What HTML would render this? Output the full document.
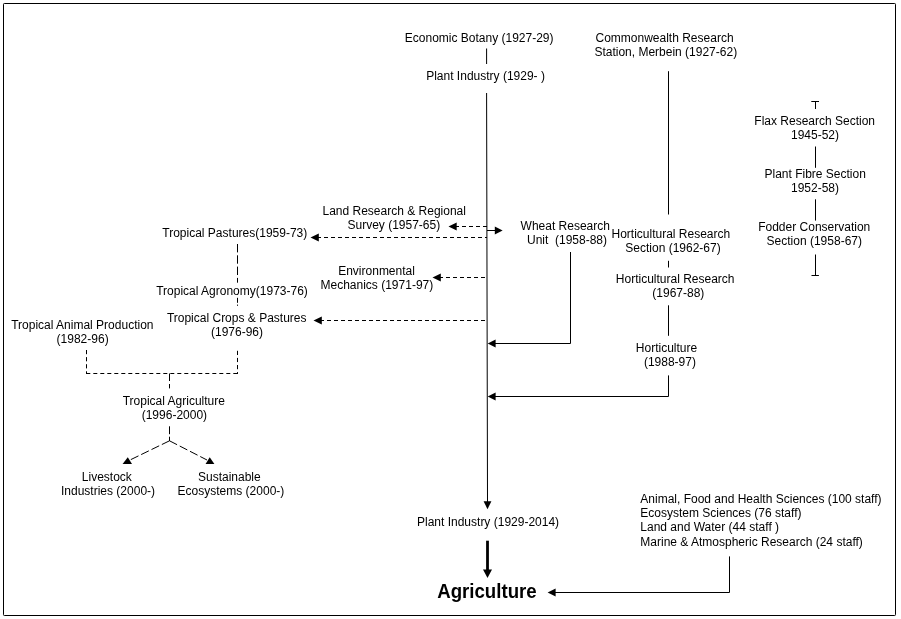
<!DOCTYPE html>
<html>
<head>
<meta charset="utf-8">
<title>Agriculture lineage</title>
<style>
html,body{margin:0;padding:0;background:#fff;}
body{width:901px;height:619px;overflow:hidden;}
svg{display:block;position:absolute;left:0;top:0;will-change:transform;}
text{font-family:"Liberation Sans",Arial,sans-serif;font-size:12px;fill:#000;white-space:pre;}
.b{font-weight:bold;font-size:18.67px;}
.l{stroke:#000;stroke-width:1;fill:none;}
.d{stroke:#000;stroke-width:1;fill:none;stroke-dasharray:4 3;}
.ld{stroke:#000;stroke-width:1;fill:none;stroke-dasharray:8.5 3;}
.a{fill:#000;stroke:none;}
</style>
</head>
<body>
<svg width="901" height="619" viewBox="0 0 901 619">
<rect x="0" y="0" width="901" height="619" fill="#fff"/>
<rect x="3.5" y="3.5" width="892" height="612" rx="0.8" class="l"/>

<!-- top centre -->
<text x="404.8" y="42">Economic Botany (1927-29)</text>
<line class="l" x1="486.6" y1="48.5" x2="486.6" y2="64"/>
<text x="426.2" y="80">Plant Industry (1929- )</text>
<line class="l" x1="486.6" y1="93" x2="487.5" y2="502"/>
<polygon class="a" points="483.6,501.2 491.4,501.2 487.5,509.2"/>

<!-- commonwealth -->
<text x="595.5" y="42">Commonwealth Research</text>
<text x="594.4" y="56">Station, Merbein (1927-62)</text>
<line class="l" x1="668.5" y1="71.2" x2="668.5" y2="214.5"/>

<!-- right column -->
<line class="l" x1="811.3" y1="101.5" x2="819" y2="101.5"/>
<line class="l" x1="815.5" y1="101.5" x2="815.5" y2="109"/>
<text x="754.3" y="125">Flax Research Section</text>
<text x="791" y="139">1945-52)</text>
<line class="l" x1="815.5" y1="146.5" x2="815.5" y2="167.8"/>
<text x="764.5" y="178">Plant Fibre Section</text>
<text x="791" y="192">1952-58)</text>
<line class="l" x1="815.5" y1="199.3" x2="815.5" y2="220.6"/>
<text x="758.2" y="231">Fodder Conservation</text>
<text x="766.6" y="245">Section (1958-67)</text>
<line class="l" x1="815.5" y1="254.5" x2="815.5" y2="275.5"/>
<line class="l" x1="811.5" y1="275.5" x2="818.9" y2="275.5"/>

<!-- land research -->
<text x="322.5" y="215">Land Research &amp; Regional</text>
<text x="347.5" y="229">Survey (1957-65)</text>
<line class="d" x1="455" y1="226.5" x2="487" y2="226.5"/>
<polygon class="a" points="448.5,226.5 456.7,222.6 456.7,230.4"/>
<line class="l" x1="487" y1="230.5" x2="496" y2="230.5"/>
<polygon class="a" points="502.6,230.5 494.8,226.6 494.8,234.4"/>

<!-- tropical pastures -->
<text x="162.3" y="237">Tropical Pastures(1959-73)</text>
<line class="d" x1="317" y1="237.5" x2="487" y2="237.5"/>
<polygon class="a" points="310.5,237.5 318.8,233.6 318.8,241.4"/>
<line class="ld" x1="237.5" y1="244" x2="237.5" y2="282.7" style="stroke-dasharray:8.4 2.9"/>
<line class="l" x1="237.5" y1="297.8" x2="237.5" y2="302.8"/>
<line class="l" x1="237.5" y1="304.6" x2="237.5" y2="305.8"/>
<text x="156.2" y="295">Tropical Agronomy(1973-76)</text>

<!-- wheat -->
<text x="520.6" y="230">Wheat Research</text>
<text x="527" y="244" xml:space="preserve">Unit  (1958-88)</text>
<polyline class="l" points="570.5,252 570.5,343.5 495,343.5"/>
<polygon class="a" points="487.7,343.5 495.6,339.6 495.6,347.4"/>

<!-- horticultural -->
<text x="611.5" y="238">Horticultural Research</text>
<text x="625.3" y="252">Section (1962-67)</text>
<line class="l" x1="668.5" y1="260.8" x2="668.5" y2="267.5"/>
<text x="615.8" y="283">Horticultural Research</text>
<text x="652.3" y="297">(1967-88)</text>
<line class="l" x1="668.5" y1="305.3" x2="668.5" y2="335.8"/>
<text x="635.8" y="352">Horticulture</text>
<text x="643.9" y="366">(1988-97)</text>
<polyline class="l" points="668.5,375.4 668.5,396.5 495,396.5"/>
<polygon class="a" points="487.7,396.5 495.6,392.6 495.6,400.4"/>

<!-- environmental -->
<text x="338.2" y="275">Environmental</text>
<text x="320.5" y="289">Mechanics (1971-97)</text>
<line class="d" x1="439" y1="277.5" x2="487" y2="277.5"/>
<polygon class="a" points="432.5,277.5 440.8,273.6 440.8,281.4"/>

<!-- tropical crops -->
<text x="166.9" y="322">Tropical Crops &amp; Pastures</text>
<text x="211" y="336">(1976-96)</text>
<line class="d" x1="320" y1="320.5" x2="487" y2="320.5"/>
<polygon class="a" points="313.5,320.5 321.8,316.6 321.8,324.4"/>

<!-- tropical animal production -->
<text x="11.2" y="329">Tropical Animal Production</text>
<text x="56.6" y="343">(1982-96)</text>
<line class="d" x1="86.5" y1="350" x2="86.5" y2="374" style="stroke-dasharray:4.2 2.9"/>
<line class="d" x1="86.3" y1="373.5" x2="238" y2="373.5"/>
<line class="d" x1="237.5" y1="350.8" x2="237.5" y2="374" style="stroke-dasharray:4.2 2.9"/>
<line class="l" x1="169.5" y1="373.5" x2="169.5" y2="381"/>
<line class="l" x1="169.5" y1="384" x2="169.5" y2="388.4"/>
<text x="122.7" y="405">Tropical Agriculture</text>
<text x="141.7" y="419">(1996-2000)</text>
<line class="l" x1="169.5" y1="426.3" x2="169.5" y2="434.2"/>
<line class="l" x1="169.5" y1="436.7" x2="169.5" y2="441"/>
<line class="ld" x1="169.5" y1="440.8" x2="130" y2="460" stroke-dasharray="8.5 3"/>
<line class="ld" x1="169.5" y1="440.8" x2="207" y2="460" stroke-dasharray="8.5 3"/>
<polygon class="a" points="127.8,457.3 122.6,464 132,464"/>
<polygon class="a" points="209.7,457.3 205.6,464 214.4,464"/>
<text x="81.8" y="481">Livestock</text>
<text x="61" y="495">Industries (2000-)</text>
<text x="198" y="481">Sustainable</text>
<text x="177.6" y="495">Ecosystems (2000-)</text>

<!-- bottom -->
<text x="417" y="526">Plant Industry (1929-2014)</text>
<line class="l" x1="487.5" y1="540.7" x2="487.5" y2="570" style="stroke-width:2.8"/>
<polygon class="a" points="483,569.5 492,569.5 487.5,578"/>
<text class="b" x="437.2" y="0" transform="translate(0,598) scale(1,1.065)">Agriculture</text>

<text x="640.3" y="503">Animal, Food and Health Sciences (100 staff)</text>
<text x="640.3" y="517">Ecosystem Sciences (76 staff)</text>
<text x="640.3" y="531">Land and Water (44 staff )</text>
<text x="640.3" y="546">Marine &amp; Atmospheric Research (24 staff)</text>
<polyline class="l" points="729.5,556.4 729.5,592.5 555,592.5"/>
<polygon class="a" points="547.6,592.5 555.6,588.5 555.6,596.5"/>
</svg>
</body>
</html>
